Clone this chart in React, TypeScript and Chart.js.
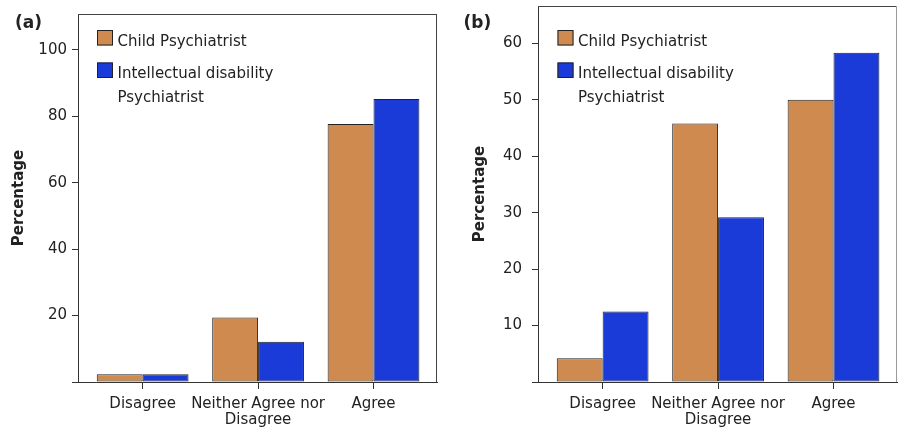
import React, { useEffect, useRef } from 'react';
import { Chart, registerables } from 'chart.js';

Chart.register(...registerables);

// ---------- data ----------
const categories: string[][] = [['Disagree'], ['Neither Agree nor', 'Disagree'], ['Agree']];
const seriesNames = ['Child Psychiatrist', 'Intellectual disability Psychiatrist'];
const legendLines: string[][] = [['Child Psychiatrist'], ['Intellectual disability', 'Psychiatrist']];
const childA = [2.3, 19.4, 77.7];
const idA = [2.3, 12.1, 85.2];
const childB = [4.2, 45.8, 50.0];
const idB = [12.5, 29.2, 58.3];
const yTicksA = [0, 20, 40, 60, 80, 100];
const yTicksB = [0, 10, 20, 30, 40, 50, 60];
const panelLabels = ['(a)', '(b)'];
const yTitle = 'Percentage';

// ---------- style ----------
const ORANGE = '#CF8B4F';
const BLUE = '#1B3BD8';
const EDGE = '#222222';
const AXIS = '#333333';
const TEXT = '#222222';
const FONT = "'DejaVu Sans', sans-serif";
const colors = [ORANGE, BLUE];

type Cfg = {
  left: number;
  width: number;
  padTop: number;
  padRight: number;
  yWidth: number;
  yMax: number;
  titlePad: number;
  tickPad: number;
  series: number[][];
  yTicks: number[];
  label: string;
  labelX: number;
  legendX: number;
  rightFrame: string;
};

const cfgA: Cfg = {
  left: 0, width: 450, padTop: 14, padRight: 13, yWidth: 78, yMax: 110.8,
  titlePad: 10, tickPad: 5, series: [childA, idA], yTicks: yTicksA,
  label: panelLabels[0], labelX: 15, legendX: 97, rightFrame: '#444',
};
const cfgB: Cfg = {
  left: 450, width: 451, padTop: 6, padRight: 4, yWidth: 88, yMax: 66.6,
  titlePad: 21, tickPad: 10, series: [childB, idB], yTicks: yTicksB,
  label: panelLabels[1], labelX: 13.5, legendX: 107.5, rightFrame: '#9a9a9a',
};

const decorPlugin = {
  id: 'panelDecor',
  afterDraw(chart: any, _args: any, opts: any) {
    const { ctx, chartArea } = chart;
    const { left, right, top, bottom } = chartArea;
    ctx.save();
    // frame top + right
    ctx.lineWidth = 1;
    ctx.strokeStyle = '#444';
    ctx.beginPath();
    ctx.moveTo(left, Math.round(top) + 0.5);
    ctx.lineTo(right, Math.round(top) + 0.5);
    ctx.stroke();
    ctx.strokeStyle = opts.rightFrame;
    ctx.beginPath();
    ctx.moveTo(Math.round(right) - 0.5, top);
    ctx.lineTo(Math.round(right) - 0.5, bottom);
    ctx.stroke();

    // panel label
    ctx.fillStyle = TEXT;
    ctx.font = `bold 17px ${FONT}`;
    ctx.textAlign = 'left';
    ctx.textBaseline = 'alphabetic';
    ctx.fillText(opts.label, opts.labelX, 28);

    // legend
    ctx.font = `15px ${FONT}`;
    const squareTops = [30, 62.5];
    const baselines = [45.5, 77.5];
    chart.data.datasets.forEach((ds: any, i: number) => {
      ctx.fillStyle = ds.backgroundColor;
      ctx.fillRect(opts.legendX, squareTops[i], 16, 15.5);
      ctx.strokeStyle = EDGE;
      ctx.strokeRect(opts.legendX + 0.5, squareTops[i] + 0.5, 15, 14.5);
      ctx.fillStyle = TEXT;
      legendLines[i].forEach((line, j) => {
        ctx.fillText(line, opts.legendX + 20.5, baselines[i] + j * 24.2);
      });
    });
    ctx.restore();
  },
};

function Panel({ cfg }: { cfg: Cfg }) {
  const ref = useRef<HTMLCanvasElement>(null);
  useEffect(() => {
    const tickFont = { family: FONT, size: 15, lineHeight: 1.07 };
    const chart = new Chart(ref.current as HTMLCanvasElement, {
      type: 'bar',
      data: {
        datasets: cfg.series.map((vals, s) => ({
          label: seriesNames[s],
          data: vals.map((v, i) => ({ x: i + 1, y: v })),
          backgroundColor: colors[s],
          borderColor: EDGE,
          borderWidth: 1,
          borderSkipped: false,
          categoryPercentage: 0.795,
          barPercentage: 1,
        })),
      },
      options: {
        responsive: false,
        animation: false,
        devicePixelRatio: 1,
        layout: { padding: { left: 0, top: cfg.padTop, right: cfg.padRight, bottom: 0 } },
        plugins: {
          legend: { display: false },
          tooltip: { enabled: false },
          panelDecor: { label: cfg.label, labelX: cfg.labelX, legendX: cfg.legendX, rightFrame: cfg.rightFrame },
        } as any,
        scales: {
          x: {
            type: 'linear',
            min: 0.44,
            max: 3.55,
            offset: false,
            afterBuildTicks: (s: any) => {
              s.ticks = categories.map((_, i) => ({ value: i + 1 }));
            },
            afterFit: (s: any) => {
              s.height = 50;
              s.paddingLeft = 0;
              s.paddingRight = 0;
            },
            ticks: {
              callback: (v: any) => categories[Math.round(Number(v)) - 1] ?? '',
              font: tickFont,
              color: TEXT,
              padding: 7,
              maxRotation: 0,
              minRotation: 0,
              autoSkip: false,
            },
            grid: { drawOnChartArea: false, drawTicks: true, tickLength: 7, color: AXIS, offset: false },
            border: { color: AXIS, width: 1 },
          },
          y: {
            type: 'linear',
            min: 0,
            max: cfg.yMax,
            afterBuildTicks: (s: any) => {
              s.ticks = cfg.yTicks.map((v) => ({ value: v }));
            },
            afterFit: (s: any) => {
              s.width = cfg.yWidth;
              s.paddingTop = 0;
              s.paddingBottom = 0;
            },
            ticks: {
              callback: (v: any) => (Number(v) === 0 ? '' : String(v)),
              font: { family: FONT, size: 15 },
              color: TEXT,
              padding: cfg.tickPad,
            },
            grid: { drawOnChartArea: false, drawTicks: true, tickLength: 6, color: AXIS },
            border: { color: AXIS, width: 1 },
            title: {
              display: true,
              text: yTitle,
              color: TEXT,
              font: { family: FONT, size: 15, weight: 'bold', lineHeight: 1.2 },
              padding: { top: cfg.titlePad, bottom: 0 },
            },
          },
        },
      } as any,
      plugins: [decorPlugin],
    });
    return () => chart.destroy();
  }, [cfg]);

  return (
    <canvas
      ref={ref}
      width={cfg.width}
      height={432}
      style={{ position: 'absolute', left: cfg.left, top: 0, width: cfg.width, height: 432 }}
    />
  );
}

export default function App() {
  return (
    <div style={{ position: 'fixed', left: 0, top: 0, width: 901, height: 432, background: '#fff' }}>
      <Panel cfg={cfgA} />
      <Panel cfg={cfgB} />
    </div>
  );
}
